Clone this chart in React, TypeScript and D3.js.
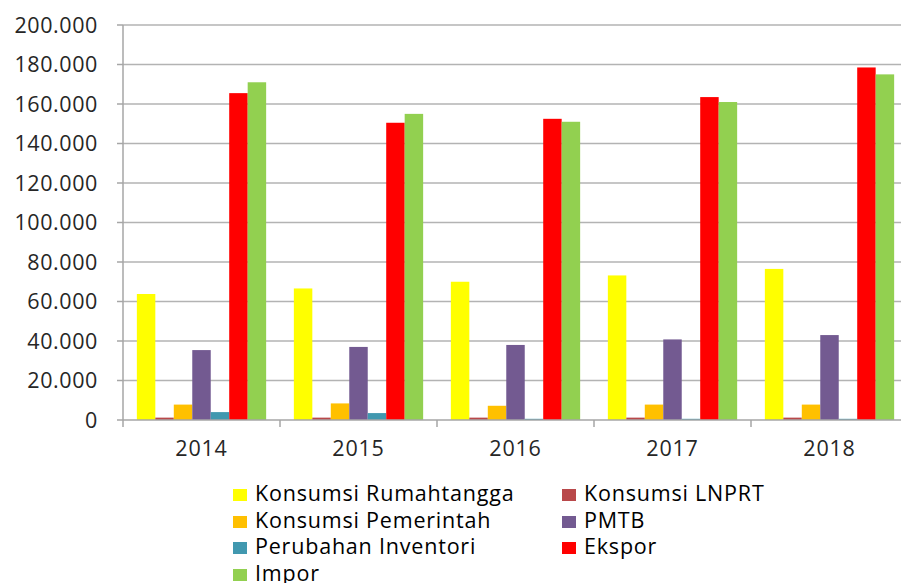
import React, { useEffect, useRef } from 'react';
import * as d3 from 'd3';

// data (values in the chart's own unit)
const years = ['2014', '2015', '2016', '2017', '2018'];
const seriesNames = [
  'Konsumsi Rumahtangga',
  'Konsumsi LNPRT',
  'Konsumsi Pemerintah',
  'PMTB',
  'Perubahan Inventori',
  'Ekspor',
  'Impor',
];
const seriesColors = ['#FFFF00', '#B9484A', '#FFC000', '#735A91', '#4198AF', '#FF0000', '#92D050'];

const rumahtangga = [63800, 66600, 70000, 73200, 76500];
const lnprt = [1200, 1200, 1200, 1200, 1200];
const pemerintah = [7800, 8400, 7200, 7800, 7800];
const pmtb = [35400, 37000, 38000, 40800, 43000];
const inventori = [4000, 3500, 600, 600, 600];
const ekspor = [165500, 150500, 152500, 163500, 178500];
const impor = [171000, 155000, 151000, 161000, 175000];

const seriesValues = [rumahtangga, lnprt, pemerintah, pmtb, inventori, ekspor, impor];
const yTicks = [0, 20000, 40000, 60000, 80000, 100000, 120000, 140000, 160000, 180000, 200000];

const FONT = "'Open Sans', sans-serif";

function Chart() {
  const ref = useRef<SVGSVGElement>(null);

  useEffect(() => {
    document.body.style.margin = '0';
    const svg = d3.select(ref.current);
    svg.selectAll('*').remove();

    const left = 123, top = 25, bottom = 420, bandW = 157;

    const x = d3.scaleBand<string>()
      .domain(years)
      .range([left, left + bandW * years.length]);

    const inner = d3.scaleBand<string>()
      .domain(seriesNames)
      .range([0, x.bandwidth()])
      .paddingOuter(0.75);

    const y = d3.scaleLinear().domain([0, 200000]).range([bottom, top]);

    const fmt = (v: number) => d3.format(',')(v).replace(/,/g, '.');

    // gridlines
    svg.append('g')
      .selectAll('line')
      .data(yTicks.slice(1))
      .enter().append('line')
      .attr('x1', left).attr('x2', 901)
      .attr('y1', d => y(d)).attr('y2', d => y(d))
      .attr('stroke', '#b3b3b3').attr('stroke-width', 1.5);

    // bars
    seriesNames.forEach((name, si) => {
      svg.append('g')
        .selectAll('rect')
        .data(seriesValues[si])
        .enter().append('rect')
        .attr('x', (d, i) => (x(years[i]) as number) + (inner(name) as number))
        .attr('y', d => y(d))
        .attr('width', inner.bandwidth())
        .attr('height', d => bottom - y(d))
        .attr('fill', seriesColors[si]);
    });

    // y axis
    const yAxis = svg.append('g');
    yAxis.append('line')
      .attr('x1', left).attr('x2', left)
      .attr('y1', top).attr('y2', bottom)
      .attr('stroke', '#a6a6a6').attr('stroke-width', 1.5);
    yAxis.selectAll('.tick')
      .data(yTicks)
      .enter().append('line')
      .attr('x1', left - 6).attr('x2', left)
      .attr('y1', d => y(d)).attr('y2', d => y(d))
      .attr('stroke', '#a6a6a6').attr('stroke-width', 1.5);
    yAxis.selectAll('text')
      .data(yTicks)
      .enter().append('text')
      .attr('x', 98)
      .attr('y', d => y(d))
      .attr('dy', '0.36em')
      .attr('text-anchor', 'end')
      .style('font-family', FONT)
      .style('font-size', '21.5px')
      .style('letter-spacing', '0.6px')
      .attr('fill', '#262626')
      .text(d => fmt(d));

    // x axis
    const xAxis = svg.append('g');
    xAxis.append('line')
      .attr('x1', left).attr('x2', 901)
      .attr('y1', bottom).attr('y2', bottom)
      .attr('stroke', '#a6a6a6').attr('stroke-width', 1.5);
    xAxis.selectAll('.tick')
      .data(years.concat(['end']))
      .enter().append('line')
      .attr('x1', (d, i) => left + i * bandW).attr('x2', (d, i) => left + i * bandW)
      .attr('y1', bottom).attr('y2', bottom + 7)
      .attr('stroke', '#a6a6a6').attr('stroke-width', 1.5);
    xAxis.selectAll('text')
      .data(years)
      .enter().append('text')
      .attr('x', d => (x(d) as number) + x.bandwidth() / 2)
      .attr('y', 456)
      .attr('text-anchor', 'middle')
      .style('font-family', FONT)
      .style('font-size', '21.5px')
      .style('letter-spacing', '0.8px')
      .attr('fill', '#262626')
      .text(d => d);

    // legend, two columns
    const legend = svg.append('g');
    const rowBase = [501, 528, 554, 581];
    seriesNames.forEach((name, i) => {
      const col = i % 2, row = Math.floor(i / 2);
      const gx = col === 0 ? 233 : 562;
      const g = legend.append('g').attr('transform', `translate(${gx},${rowBase[row]})`);
      g.append('rect')
        .attr('x', 0).attr('y', -12)
        .attr('width', 14).attr('height', 12)
        .attr('fill', seriesColors[i]);
      g.append('text')
        .attr('x', 22).attr('y', 0)
        .style('font-family', FONT)
        .style('font-size', '21.5px')
        .style('letter-spacing', '0.8px')
        .attr('fill', '#000')
        .text(name);
    });
  }, []);

  return <svg ref={ref} width={901} height={583} style={{ display: 'block', background: '#fff' }}></svg>;
}

export default function App() {
  return <Chart />;
}
